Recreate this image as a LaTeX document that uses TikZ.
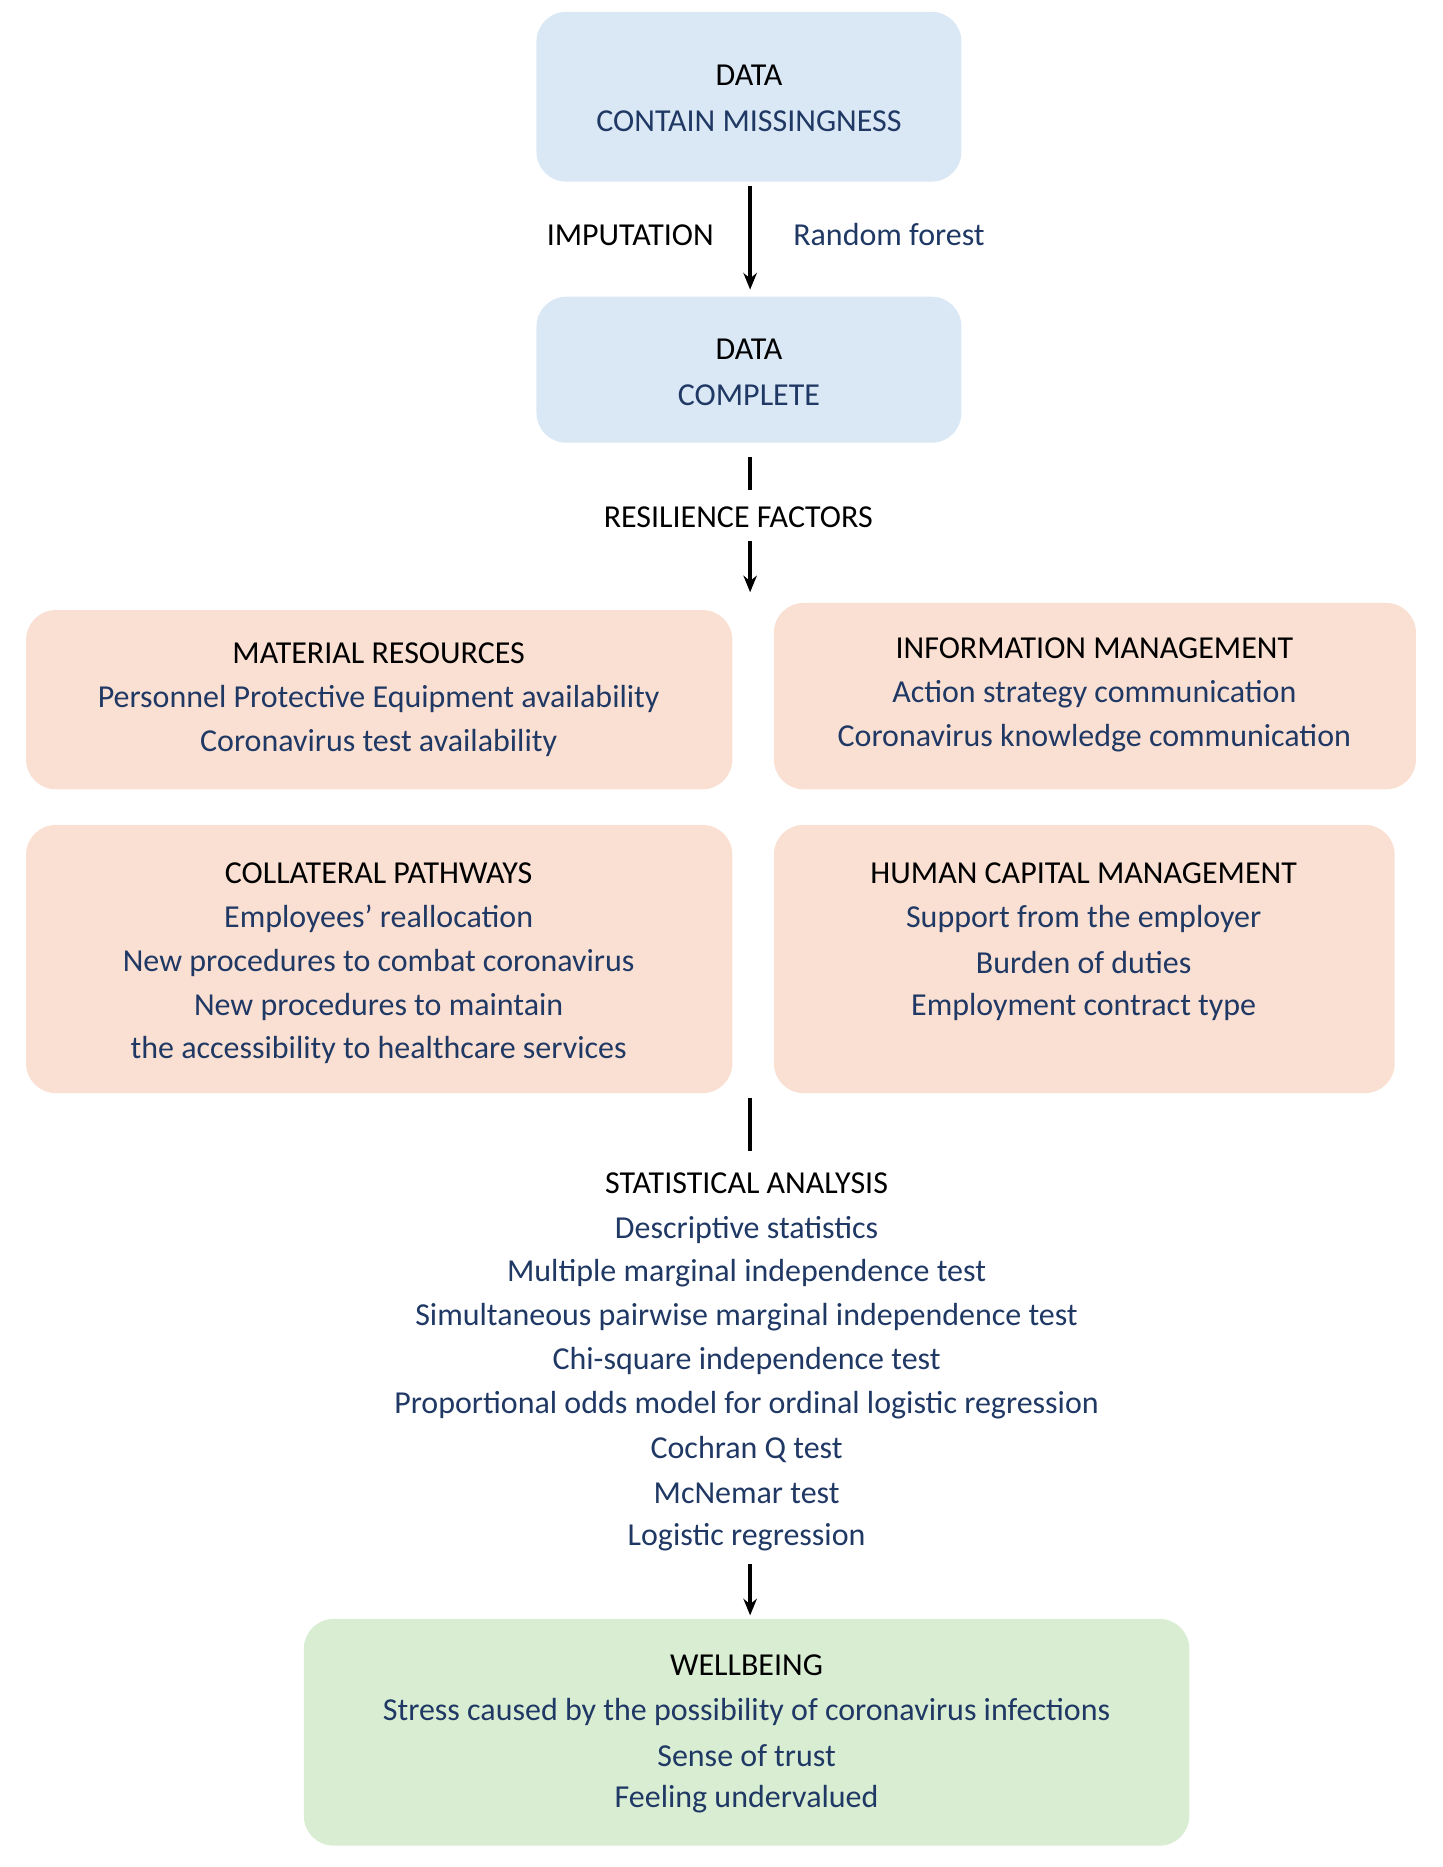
\documentclass[tikz,border=0pt]{standalone}
\usepackage{fontspec}
\setmainfont{Carlito}
\usetikzlibrary{arrows.meta}
\definecolor{navy}{HTML}{1F3864}
\definecolor{bluef}{HTML}{DAE7F5}
\definecolor{salm}{HTML}{FAE0D3}
\definecolor{grn}{HTML}{D9EDD3}
\begin{document}
\begin{tikzpicture}[x=0.03cm,y=-0.03cm,
  box/.style={rounded corners=0.75cm,draw=none},
  t/.style={font=\fontsize{23pt}{28pt}\selectfont,text=black,inner sep=0pt},
  s/.style={font=\fontsize{23pt}{28pt}\selectfont,text=navy,inner sep=0pt},
  conn/.style={line width=2.4pt},
  arr/.style={conn,-{Stealth[length=0.42cm,width=0.34cm]}}]
\useasboundingbox (0,0) rectangle (1215,1573);
% boxes
\fill[box,bluef] (452,10) rectangle (810,153);
\fill[box,bluef] (452,250) rectangle (810,373);
\fill[box,salm] (22,514) rectangle (617,665);
\fill[box,salm] (652,508) rectangle (1193,665);
\fill[box,salm] (22,695) rectangle (617,921);
\fill[box,salm] (652,695) rectangle (1175,921);
\fill[box,grn] (256,1364) rectangle (1002,1555);
% texts
\node[t] (d1) at (631,63) {DATA};
\node[s] (d1b) at (631,102) {CONTAIN MISSINGNESS};
\node[t] (imp) at (531,198) {IMPUTATION};
\node[s] (rf) at (749,198) {Random forest};
\node[t] (d2) at (631,294) {DATA};
\node[s] (d2b) at (631,333) {COMPLETE};
\node[t] (res) at (622,436) {RESILIENCE FACTORS};
\node[t] at (319,550) {MATERIAL RESOURCES};
\node[s] at (319,589) {Personnel Protective Equipment availability};
\node[s] at (319,626) {Coronavirus test availability};
\node[t] at (922,546) {INFORMATION MANAGEMENT};
\node[s] at (922,585) {Action strategy communication};
\node[s] at (922,622) {Coronavirus knowledge communication};
\node[t] at (319,736) {COLLATERAL PATHWAYS};
\node[s] at (319,774) {Employees’ reallocation};
\node[s] at (319,811) {New procedures to combat coronavirus};
\node[s] at (319,848) {New procedures to maintain};
\node[s] at (319,885) {the accessibility to healthcare services};
\node[t] at (913,736) {HUMAN CAPITAL MANAGEMENT};
\node[s] at (913,774) {Support from the employer};
\node[s] at (913,811) {Burden of duties};
\node[s] at (913,848) {Employment contract type};
\node[t] (st) at (629,997) {STATISTICAL ANALYSIS};
\node[s] at (629,1036) {Descriptive statistics};
\node[s] at (629,1073) {Multiple marginal independence test};
\node[s] at (629,1110) {Simultaneous pairwise marginal independence test};
\node[s] at (629,1147) {Chi-square independence test};
\node[s] at (629,1184) {Proportional odds model for ordinal logistic regression};
\node[s] at (629,1221) {Cochran Q test};
\node[s] at (629,1258) {McNemar test};
\node[s] (lr) at (629,1295) {Logistic regression};
\node[t] at (629,1403) {WELLBEING};
\node[s] at (629,1442) {Stress caused by the possibility of coronavirus infections};
\node[s] at (629,1479) {Sense of trust};
\node[s] at (629,1516) {Feeling undervalued};
% connectors
\coordinate (a1) at (632,157); \coordinate (a2) at (632,244);
\coordinate (b1) at (632,385); \coordinate (b2) at (632,413);
\coordinate (c1) at (632,456); \coordinate (c2) at (632,499);
\coordinate (e1) at (632,925); \coordinate (e2) at (632,970);
\coordinate (f1) at (632,1318); \coordinate (f2) at (632,1361);
\draw[arr] (a1) -- (a2);
\draw[conn] (b1) -- (b2);
\draw[arr] (c1) -- (c2);
\draw[conn] (e1) -- (e2);
\draw[arr] (f1) -- (f2);
\end{tikzpicture}
\end{document}
